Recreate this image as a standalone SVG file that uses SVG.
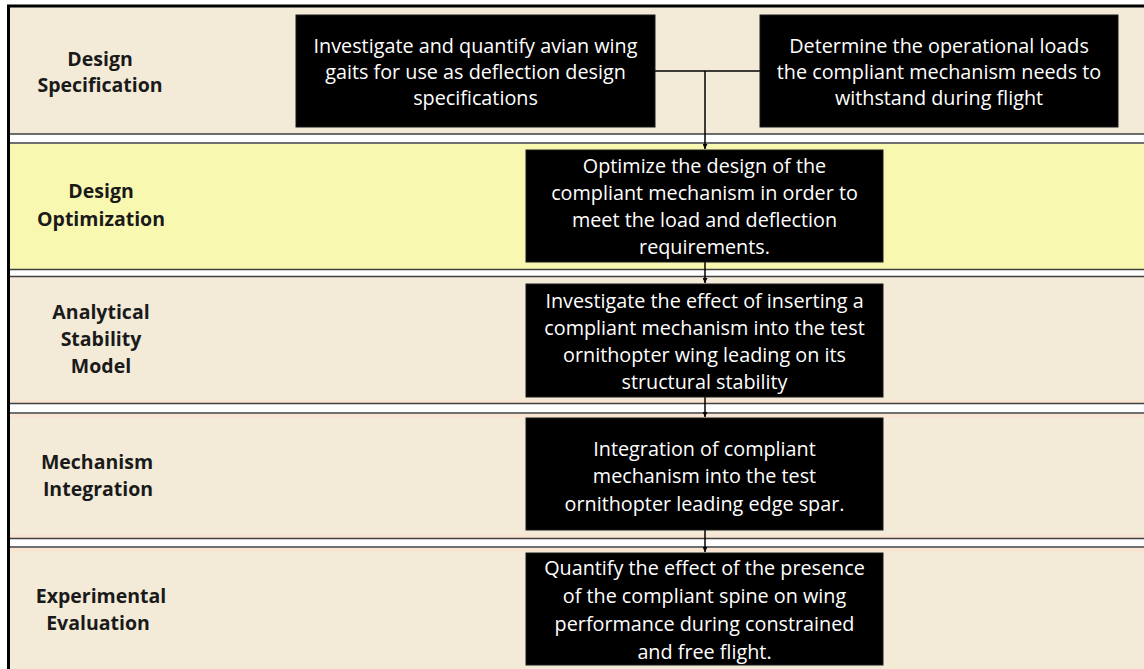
<svg xmlns="http://www.w3.org/2000/svg" width="1144" height="669" viewBox="0 0 1144 669">
<style>
.band{fill:#f3ead8;}
.yel{fill:#f9f8b0;}
.sep{stroke:#404040;stroke-width:1.6;fill:none;}
.box{fill:#000000;stroke:#1a1a1a;stroke-width:1;}
.bt{font-family:"Open Sans","Liberation Sans",sans-serif;font-size:19.8px;fill:#ffffff;text-anchor:middle;}
.lb{font-family:"Open Sans","Liberation Sans",sans-serif;font-size:19.5px;font-weight:bold;fill:#1a1a1a;text-anchor:middle;}
.cn{stroke:#000000;stroke-width:1.5;fill:none;}
</style>
<defs>
<marker id="ah" viewBox="0 0 10 10" refX="10" refY="5" markerWidth="5" markerHeight="5" orient="auto" markerUnits="userSpaceOnUse">
<path d="M0,0 L10,5 L0,10 z" fill="#000000"/>
</marker>
</defs>
<rect x="0" y="0" width="1144" height="669" fill="#ffffff"/>
<g id="lanes">
<rect class="band" x="9" y="7" width="1135" height="127"/>
<rect class="yel" x="9" y="144" width="1135" height="125"/>
<rect class="band" x="9" y="277" width="1135" height="126"/>
<rect class="band" x="9" y="414" width="1135" height="124"/>
<rect class="band" x="9" y="548" width="1135" height="121"/>
<path d="M10,401 H1144 M10,416 H1144 M10,536 H1144 M10,550 H1144" stroke="#fbe3d2" stroke-width="3" fill="none"/>
<path class="sep" d="M9,134 H1144 M9,143 H1144 M9,269.5 H1144 M9,276.5 H1144 M9,403.5 H1144 M9,413 H1144 M9,538.5 H1144 M9,547 H1144"/>
<path d="M8.5,669 V6 H1144" stroke="#000000" stroke-width="3" fill="none"/>
</g>
<g id="label-design-specification">
<text class="lb" x="100" y="66">Design</text>
<text class="lb" x="100" y="92">Specification</text>
</g>
<g id="label-design-optimization">
<text class="lb" x="101" y="198">Design</text>
<text class="lb" x="101" y="226">Optimization</text>
</g>
<g id="label-analytical-stability-model">
<text class="lb" x="101" y="319">Analytical</text>
<text class="lb" x="101" y="346">Stability</text>
<text class="lb" x="101" y="373">Model</text>
</g>
<g id="label-mechanism-integration">
<text class="lb" x="97" y="469">Mechanism</text>
<text class="lb" x="98" y="496">Integration</text>
</g>
<g id="label-experimental-evaluation">
<text class="lb" x="101" y="603">Experimental</text>
<text class="lb" x="98" y="630">Evaluation</text>
</g>
<g id="connectors">
<path class="cn" d="M655,71 H760"/>
<path class="cn" d="M705,71 V149" marker-end="url(#ah)"/>
<path class="cn" d="M705,262 V283" marker-end="url(#ah)"/>
<path class="cn" d="M705,397 V417" marker-end="url(#ah)"/>
<path class="cn" d="M705,530 V552" marker-end="url(#ah)"/>
</g>
<g id="node-avian-gaits">
<rect class="box" x="296" y="15" width="359" height="112"/>
<text class="bt" x="475.5" y="53">Investigate and quantify avian wing</text>
<text class="bt" x="475.5" y="79">gaits for use as deflection design</text>
<text class="bt" x="475.5" y="105">specifications</text>
</g>
<g id="node-operational-loads">
<rect class="box" x="760" y="15" width="358" height="112"/>
<text class="bt" x="939" y="53">Determine the operational loads</text>
<text class="bt" x="939" y="79">the compliant mechanism needs to</text>
<text class="bt" x="939" y="105">withstand during flight</text>
</g>
<g id="node-optimize">
<rect class="box" x="526" y="150" width="357" height="112"/>
<text class="bt" x="704.5" y="173">Optimize the design of the</text>
<text class="bt" x="704.5" y="200">compliant mechanism in order to</text>
<text class="bt" x="704.5" y="227">meet the load and deflection</text>
<text class="bt" x="704.5" y="254">requirements.</text>
</g>
<g id="node-stability">
<rect class="box" x="526" y="284" width="357" height="113"/>
<text class="bt" x="704.5" y="308">Investigate the effect of inserting a</text>
<text class="bt" x="704.5" y="335">compliant mechanism into the test</text>
<text class="bt" x="704.5" y="362">ornithopter wing leading on its</text>
<text class="bt" x="704.5" y="389">structural stability</text>
</g>
<g id="node-integration">
<rect class="box" x="526" y="418" width="357" height="112"/>
<text class="bt" x="704.5" y="456">Integration of compliant</text>
<text class="bt" x="704.5" y="483">mechanism into the test</text>
<text class="bt" x="704.5" y="511">ornithopter leading edge spar.</text>
</g>
<g id="node-evaluation">
<rect class="box" x="526" y="553" width="357" height="112"/>
<text class="bt" x="704.5" y="575">Quantify the effect of the presence</text>
<text class="bt" x="704.5" y="603">of the compliant spine on wing</text>
<text class="bt" x="704.5" y="631">performance during constrained</text>
<text class="bt" x="704.5" y="659">and free flight.</text>
</g>
</svg>
